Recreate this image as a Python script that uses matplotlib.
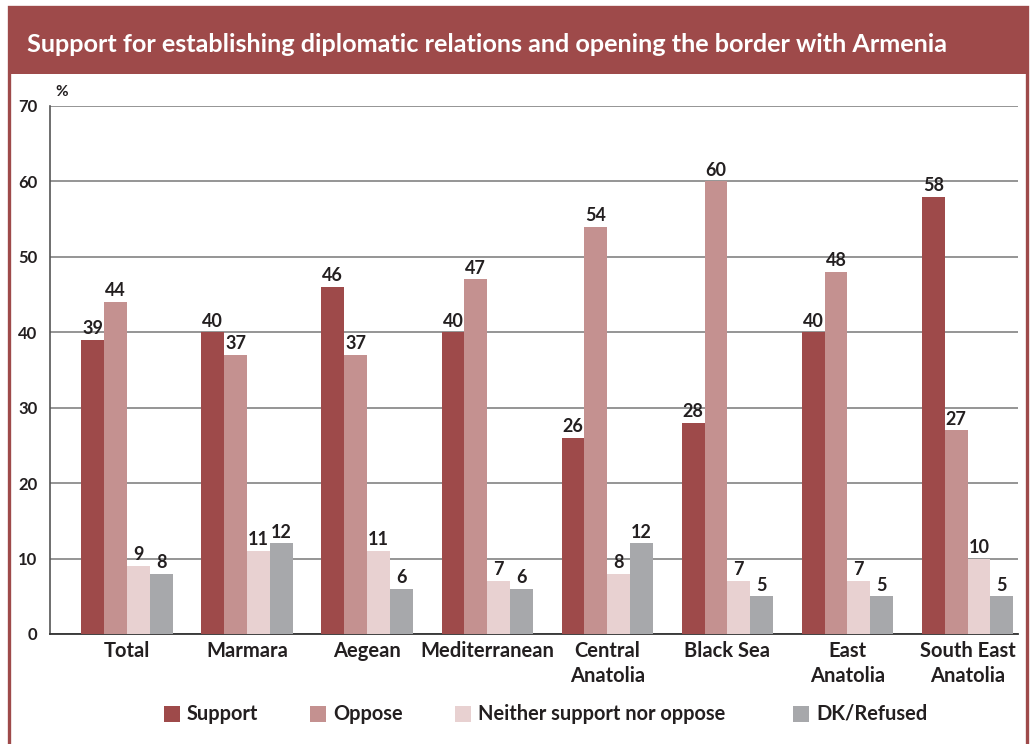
import matplotlib.pyplot as plt
from matplotlib.patches import Rectangle
import numpy as np

# survey results by region, in percent
regions = ["Total", "Marmara", "Aegean", "Mediterranean", "Central\nAnatolia",
           "Black Sea", "East\nAnatolia", "South East\nAnatolia"]
support = [39, 40, 46, 40, 26, 28, 40, 58]
oppose = [44, 37, 37, 47, 54, 60, 48, 27]
neither = [9, 11, 11, 7, 8, 7, 7, 10]
dk_refused = [8, 12, 6, 6, 12, 5, 5, 5]
series_names = ["Support", "Oppose", "Neither support nor oppose", "DK/Refused"]
y_ticks = [0, 10, 20, 30, 40, 50, 60, 70]

colors = ["#9E4A4A", "#C49190", "#E8D1D1", "#A7A8AB"]
dark_red = "#9E4A4A"
text_color = "#231F20"

plt.rcParams['font.family'] = ['Lato', 'DejaVu Sans']

W, H = 1031, 744
fig = plt.figure(figsize=(W / 100, H / 100), dpi=100)
fig.patch.set_facecolor("white")

# frame and title band
fig.patches.append(Rectangle((9 / W, -0.01), 1018 / W, (H - 7) / H + 0.01, transform=fig.transFigure,
                             facecolor="none", edgecolor=dark_red, linewidth=2.4, zorder=0))
fig.patches.append(Rectangle((8 / W, (H - 74) / H), 1019 / W, 67 / H, transform=fig.transFigure,
                             facecolor=dark_red, edgecolor="none", zorder=1))
fig.text(27 / W, (H - 45) / H, "Support for establishing diplomatic relations and opening the border with Armenia",
         color="white", fontsize=18.2, fontweight="bold", va="center", ha="left")

ax = fig.add_axes([50 / W, (H - 634) / H, (1018 - 50) / W, (634 - 106) / H])
x = np.arange(len(regions))
bw = 0.19
data = [support, oppose, neither, dk_refused]
for i, (vals, c) in enumerate(zip(data, colors)):
    pos = x + (i - 1.5) * bw
    ax.bar(pos, vals, width=bw, color=c, zorder=3)
    for px, v in zip(pos, vals):
        ax.annotate(str(v), (px, v), xytext=(0, 2), textcoords="offset points",
                    ha="center", va="bottom", fontsize=13, fontweight="bold", color=text_color)

ax.set_xlim(-0.64, len(regions) - 0.58)
ax.set_ylim(0, 70)
ax.set_yticks(y_ticks)
ax.set_yticklabels([str(t) for t in y_ticks], fontsize=12, fontweight="bold", color=text_color)
ax.yaxis.grid(True, color="#8C8C8C", linewidth=1.3, zorder=0)
ax.set_axisbelow(True)
ax.tick_params(axis="y", length=0, pad=9)
ax.tick_params(axis="x", length=0, pad=5)
ax.set_xticks(x)
ax.set_xticklabels(regions, fontsize=14.5, fontweight="bold", color=text_color, linespacing=1.3)
for s in ["top", "right"]:
    ax.spines[s].set_visible(False)
ax.spines["left"].set_color("#555555")
ax.spines["left"].set_linewidth(1.2)
ax.spines["bottom"].set_color("#333333")
ax.spines["bottom"].set_linewidth(1.3)

fig.text(55 / W, (H - 92) / H, "%", fontsize=11, fontweight="bold", color=text_color, va="center")

# legend
legend_x = [164, 310, 455, 793]
for lx, name, c in zip(legend_x, series_names, colors):
    fig.patches.append(Rectangle((lx / W, (H - 722) / H), 16 / W, 16 / H,
                                 transform=fig.transFigure, facecolor=c, edgecolor="none"))
    fig.text((lx + 23) / W, (H - 714) / H, name, fontsize=14.4, fontweight="bold",
             color=text_color, va="center", ha="left")

fig.savefig("out.png", dpi=100)
